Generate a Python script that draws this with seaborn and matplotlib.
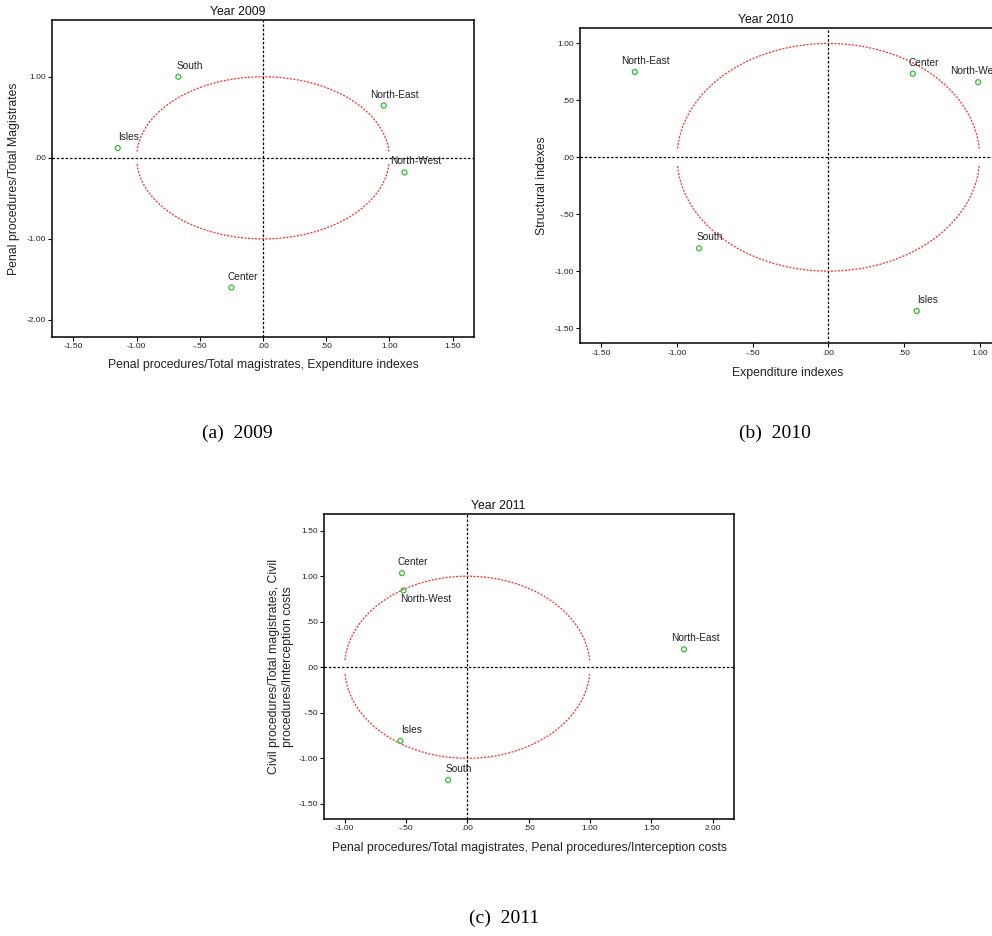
import matplotlib
matplotlib.use("Agg")
import matplotlib.pyplot as plt
import numpy as np
import pandas as pd
import seaborn as sns

# --- data ---
regions_2009 = ["South", "North-East", "Isles", "North-West", "Center"]
x_2009 = [-0.67, 0.955, -1.15, 1.12, -0.25]
y_2009 = [1.00, 0.645, 0.12, -0.18, -1.60]

regions_2010 = ["North-East", "Center", "North-West", "South", "Isles"]
x_2010 = [-1.28, 0.558, 0.99, -0.855, 0.584]
y_2010 = [0.75, 0.735, 0.66, -0.80, -1.35]

regions_2011 = ["Center", "North-West", "North-East", "Isles", "South"]
x_2011 = [-0.532, -0.52, 1.765, -0.545, -0.157]
y_2011 = [1.034, 0.844, 0.197, -0.81, -1.24]

xticks_2009 = [-1.5, -1.0, -0.5, 0.0, 0.5, 1.0, 1.5]
yticks_2009 = [-2.0, -1.0, 0.0, 1.0]
xticks_2010 = [-1.5, -1.0, -0.5, 0.0, 0.5, 1.0]
yticks_2010 = [-1.5, -1.0, -0.5, 0.0, 0.5, 1.0]
xticks_2011 = [-1.0, -0.5, 0.0, 0.5, 1.0, 1.5, 2.0]
yticks_2011 = [-1.5, -1.0, -0.5, 0.0, 0.5, 1.0, 1.5]

# label offsets in pixels (SPSS default is up and to the right)
shift_2009 = [(11, 11)] * 5
shift_2010 = [(11, 11), (11, 11), (-2, 11), (11, 11), (11, 11)]
shift_2011 = [(11, 11), (22, -9), (11, 11), (11, 11), (11, 11)]

W, H = 992, 936
GREEN = "#33bb33"
RED = "#ff2a2a"

sns.set_style("white")
plt.rcParams["font.family"] = ["Liberation Sans", "DejaVu Sans"]


def px_rect(l, t, r, b):
    return [l / W, 1 - b / H, (r - l) / W, (b - t) / H]


def spss_fmt(v, pos=None):
    s = f"{v:.2f}"
    if s.lstrip("-").startswith("0."):
        s = s.replace("0.", ".", 1)
    return s


def panel(ax, names, xs, ys, shifts, title, title_x, xlabel, ylabel,
          ylab_x, xlab_y, xlim, ylim, xticks, yticks):
    df = pd.DataFrame({"x": xs, "y": ys, "region": names})

    ax.axhline(0, color="black", lw=0.9, ls=(0, (2, 1.5)), zorder=1)
    ax.axvline(0, color="black", lw=0.9, ls=(0, (2, 1.5)), zorder=1)

    # unit circle reference, drawn as two halves like SPSS does
    cx = np.linspace(-0.997, 0.997, 300)
    cy = np.sqrt(1 - cx ** 2)
    ax.plot(cx, cy, color=RED, lw=0.9, ls=(0, (1.6, 1.2)), zorder=2)
    ax.plot(cx, -cy, color=RED, lw=0.9, ls=(0, (1.6, 1.2)), zorder=2)

    sns.scatterplot(data=df, x="x", y="y", ax=ax, marker="o", s=13,
                    color=GREEN, facecolor="none", edgecolor=GREEN,
                    linewidth=0.9, zorder=3)

    for name, x, y, (dx, dy) in zip(names, xs, ys, shifts):
        ax.annotate(name, (x, y), xytext=(dx, dy), textcoords="offset pixels",
                    ha="center", va="center", fontsize=7.3, color="#222222")

    ax.set_xlim(*xlim)
    ax.set_ylim(*ylim)
    ax.set_xticks(xticks)
    ax.set_yticks(yticks)
    ax.xaxis.set_major_formatter(plt.FuncFormatter(spss_fmt))
    ax.yaxis.set_major_formatter(plt.FuncFormatter(spss_fmt))
    ax.tick_params(direction="out", length=3, width=0.8, labelsize=6,
                   pad=1.5, color="black", labelcolor="#222222",
                   bottom=True, left=True)
    for sp in ax.spines.values():
        sp.set_color("black")
        sp.set_linewidth(1.1)

    ax.set_xlabel(xlabel, fontsize=8.8, va="center", color="#222222")
    ax.set_ylabel(ylabel, fontsize=8.8, va="center", color="#222222")
    ax.xaxis.set_label_coords(0.5, xlab_y)
    ax.yaxis.set_label_coords(ylab_x, 0.5)

    ax.annotate(title, xy=(title_x, 1), xycoords="axes fraction",
                xytext=(0, 8), textcoords="offset pixels",
                ha="center", va="center", fontsize=8.8, color="#111111")


fig = plt.figure(figsize=(W / 100, H / 100), dpi=100)
fig.patch.set_facecolor("white")

ax_a = fig.add_axes(px_rect(52, 20, 474, 337))
panel(ax_a, regions_2009, x_2009, y_2009, shift_2009, "Year 2009", 0.441,
      "Penal procedures/Total magistrates, Expenditure indexes",
      "Penal procedures/Total Magistrates", -0.089, -0.088,
      (-1.67, 1.67), (-2.21, 1.70), xticks_2009, yticks_2009)

ax_b = fig.add_axes(px_rect(580.3, 28, 996, 343.3))
panel(ax_b, regions_2010, x_2010, y_2010, shift_2010, "Year 2010", 0.446,
      "Expenditure indexes", "Structural indexes", -0.0914, -0.093,
      (-1.64, 1.108), (-1.634, 1.136), xticks_2010, yticks_2010)

ax_c = fig.add_axes(px_rect(324.3, 514.3, 733.7, 819))
panel(ax_c, regions_2011, x_2011, y_2011, shift_2011, "Year 2011", 0.4236,
      "Penal procedures/Total magistrates, Penal procedures/Interception costs",
      "Civil procedures/Total magistrates, Civil\nprocedures/Interception costs",
      -0.1053, -0.096, (-1.165, 2.17), (-1.667, 1.68),
      xticks_2011, yticks_2011)

captions = ["(a)  2009", "(b)  2010", "(c)  2011"]
cap_xy = [(237, 433), (775, 433), (504, 918)]
for cap, (cx_, cy_) in zip(captions, cap_xy):
    fig.text(cx_ / W, 1 - cy_ / H, cap, family="Liberation Serif",
             fontsize=14, ha="center", va="center", color="black")

fig.savefig("out.png", dpi=100)
